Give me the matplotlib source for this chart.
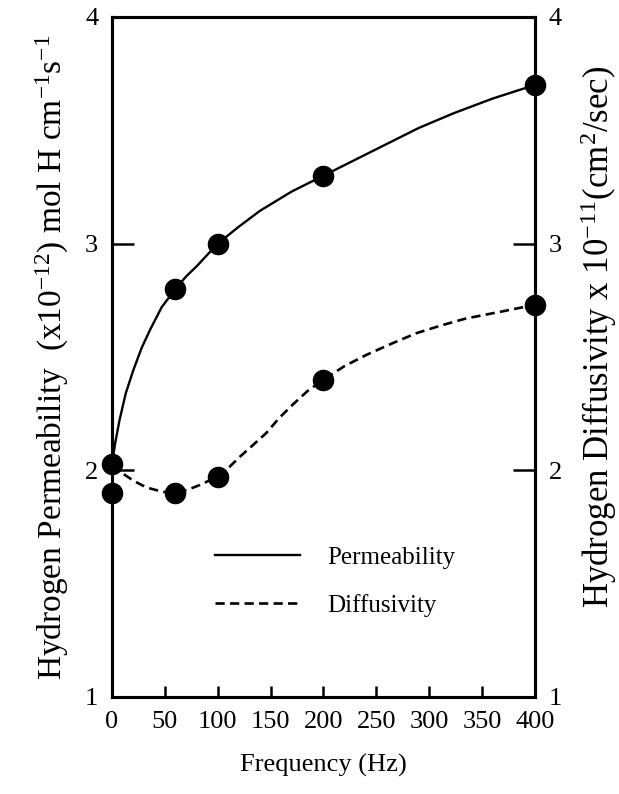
import matplotlib.pyplot as plt

plt.rcParams['font.family'] = ['Liberation Serif', 'DejaVu Serif']
plt.rcParams['mathtext.default'] = 'regular'

# measured points
freq = [0, 60, 100, 200, 400]
perm = [2.03, 2.80, 3.00, 3.30, 3.70]
diff = [1.90, 1.90, 1.97, 2.40, 2.73]

# fitted curves
perm_fit_x = [0, 3, 7, 13, 20, 28, 36, 47, 60, 70, 80, 90, 100, 120, 140, 170, 200, 230, 260, 290, 323, 360, 400]
perm_fit_y = [2.03, 2.12, 2.22, 2.34, 2.44, 2.54, 2.62, 2.72, 2.80, 2.855, 2.90, 2.95, 3.00, 3.075, 3.145, 3.23, 3.30, 3.37, 3.44, 3.51, 3.575, 3.64, 3.70]
diff_fit_x = [0, 5, 12, 20, 28, 36, 48, 60, 72, 83, 92, 100, 110, 121, 133, 146, 158, 171, 185, 200, 220, 241, 265, 288, 312, 335, 368, 400]
diff_fit_y = [2.02, 2.00, 1.98, 1.955, 1.935, 1.92, 1.905, 1.90, 1.915, 1.935, 1.955, 1.975, 2.01, 2.06, 2.11, 2.165, 2.23, 2.29, 2.35, 2.40, 2.46, 2.51, 2.56, 2.605, 2.64, 2.67, 2.70, 2.73]

fig = plt.figure(figsize=(6.19, 7.94), dpi=100)
ax = fig.add_axes([0.181, 0.1222, 0.683, 0.8564])
ax2 = ax.twinx()

ax.plot(perm_fit_x, perm_fit_y, color='black', lw=1.7, clip_on=False)
ax2.plot(diff_fit_x, diff_fit_y, color='black', lw=1.9, dashes=(3.5, 2), clip_on=False)
ax.plot(freq, perm, 'o', color='black', ms=14.5, clip_on=False, zorder=5)
ax2.plot(freq, diff, 'o', color='black', ms=14.5, clip_on=False, zorder=5)

for a in (ax, ax2):
    a.set_xlim(0, 400)
    a.set_ylim(1, 4)
    a.set_yticks([1, 2, 3, 4])
    for s in a.spines.values():
        s.set_linewidth(2.2)

ax.set_xticks(range(0, 401, 50))
ax.tick_params(axis='x', direction='in', length=8, width=1.8, labelsize=19, pad=10)
ax.tick_params(axis='y', direction='in', length=16, width=1.8, labelsize=19, pad=10)
ax2.tick_params(axis='y', direction='in', length=16, width=1.8, labelsize=19, pad=10)

ax.set_xlabel('Frequency (Hz)', fontsize=19, labelpad=15)
ax.set_ylabel('Hydrogen Permeability  (x10$^{-12}$) mol H cm$^{-1}$s$^{-1}$', fontsize=24, labelpad=10)
ax2.set_ylabel('Hydrogen Diffusivity x 10$^{-11}$(cm$^{2}$/sec)', fontsize=25)
ax2.yaxis.set_label_coords(1.102, 0.53)

h1, = ax.plot([], [], color='black', lw=1.7)
h2, = ax.plot([], [], color='black', lw=1.9, dashes=(3.5, 2))
ax.legend([h1, h2], ['Permeability', 'Diffusivity'], frameon=False, fontsize=18,
          handlelength=3.4, handletextpad=1.1, labelspacing=1.0,
          loc='center left', bbox_to_anchor=(0.19, 0.17))

fig.savefig('out.png', dpi=100)
